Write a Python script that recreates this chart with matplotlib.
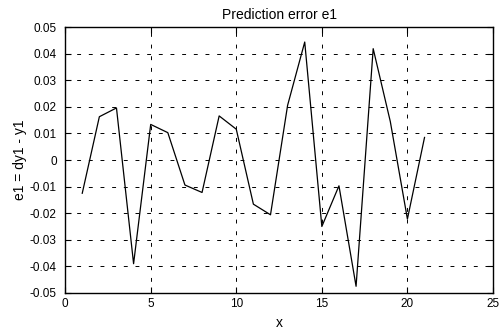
import numpy as np
import matplotlib.pyplot as plt

plt.rcParams['font.family'] = ['Liberation Sans', 'DejaVu Sans']

# sample index and prediction error values
x = list(range(1, 22))
e1 = [-0.0125, 0.0163, 0.0196, -0.039, 0.0134, 0.0103, -0.0094, -0.0122,
      0.0166, 0.0116, -0.0166, -0.0206, 0.0206, 0.0444, -0.025, -0.0097,
      -0.0475, 0.0419, 0.0145, -0.0222, 0.0085]

xticks = [0, 5, 10, 15, 20, 25]
yticks = [-0.05, -0.04, -0.03, -0.02, -0.01, 0, 0.01, 0.02, 0.03, 0.04, 0.05]
ytick_labels = ["-0.05", "-0.04", "-0.03", "-0.02", "-0.01", "0",
                "0.01", "0.02", "0.03", "0.04", "0.05"]


def main():
    fig = plt.figure(figsize=(5.01, 3.31), dpi=100)
    ax = fig.add_axes([0.13, 0.115, 0.854, 0.803])

    ax.plot(x, e1, color="black", linewidth=0.9)

    ax.set_xlim(0, 25)
    ax.set_ylim(-0.05, 0.05)
    ax.set_xticks(xticks)
    ax.set_yticks(yticks)
    ax.set_yticklabels(ytick_labels)

    ax.grid(True, color="black", linestyle=(0, (4, 8)), linewidth=0.7)
    ax.tick_params(direction="in", length=4, width=0.8, labelsize=8.5,
                   top=True, right=True)
    ax.tick_params(axis="y", pad=6)
    ax.tick_params(axis="x", pad=4)
    for s in ax.spines.values():
        s.set_linewidth(1.0)

    ax.set_title("Prediction error e1", fontsize=10, pad=6)
    ax.set_xlabel("x", fontsize=10, labelpad=4)
    ax.set_ylabel("e1 = dy1 - y1", fontsize=10, labelpad=2)

    fig.savefig("out.png", dpi=100)


if __name__ == "__main__":
    main()
